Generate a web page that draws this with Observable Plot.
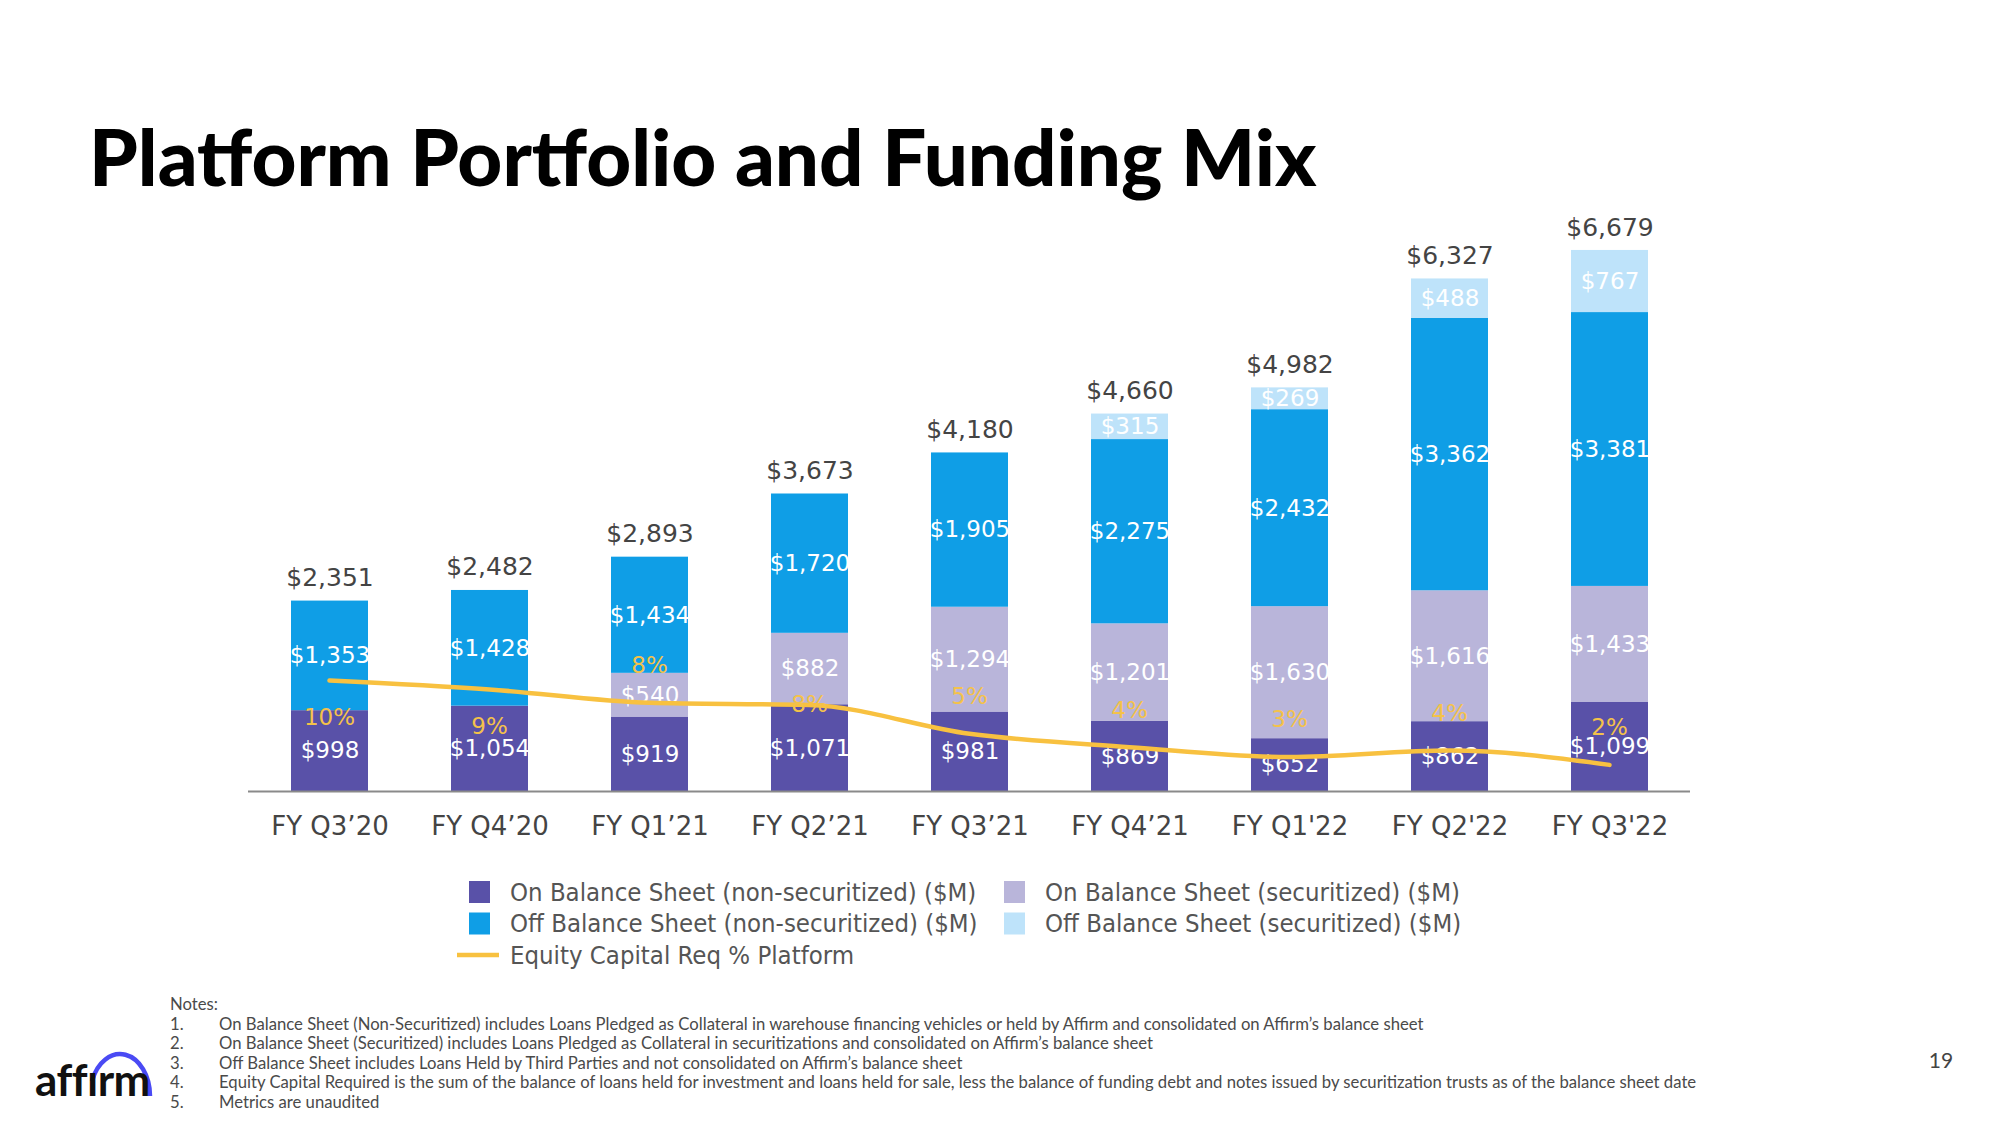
<!DOCTYPE html>
<html>
<head>
<meta charset="utf-8">
<script src="https://cdn.jsdelivr.net/npm/d3@7"></script>
<script src="https://cdn.jsdelivr.net/npm/@observablehq/plot@0.6"></script>
<style>
  html, body { margin: 0; padding: 0; background: #fff; }
  #page { position: relative; width: 2000px; height: 1125px; overflow: hidden; background: #fff; }
  #chart, #line { position: absolute; left: 0; top: 150px; }
  #decor { position: absolute; left: 0; top: 0; }
</style>
</head>
<body>
<div id="page">
  <svg id="decor" width="2000" height="1125"></svg>
  <div id="chart"></div>
  <div id="line"></div>
</div>
<script>
// ---------------- data ----------------
const titleText = "Platform Portfolio and Funding Mix";
const quarters = ["FY Q3’20", "FY Q4’20", "FY Q1’21", "FY Q2’21", "FY Q3’21", "FY Q4’21", "FY Q1'22", "FY Q2'22", "FY Q3'22"];
const seriesNames = [
  "On Balance Sheet (non-securitized) ($M)",
  "On Balance Sheet (securitized) ($M)",
  "Off Balance Sheet (non-securitized) ($M)",
  "Off Balance Sheet (securitized) ($M)"
];
const onBalanceNonSec  = [998, 1054, 919, 1071, 981, 869, 652, 862, 1099];
const onBalanceSec     = [0, 0, 540, 882, 1294, 1201, 1630, 1616, 1433];
const offBalanceNonSec = [1353, 1428, 1434, 1720, 1905, 2275, 2432, 3362, 3381];
const offBalanceSec    = [0, 0, 0, 0, 0, 315, 269, 488, 767];
const totals = [2351, 2482, 2893, 3673, 4180, 4660, 4982, 6327, 6679];
const lineName = "Equity Capital Req % Platform";
const equityPct = [10.0, 9.2, 8.0, 7.8, 5.2, 4.0, 3.1, 3.7, 2.4];
const equityPctLabels = ["10%", "9%", "8%", "8%", "5%", "4%", "3%", "4%", "2%"];
const notesHeader = "Notes:";
const notes = [
  "On Balance Sheet (Non-Securitized) includes Loans Pledged as Collateral in warehouse financing vehicles or held by Affirm and consolidated on Affirm’s balance sheet",
  "On Balance Sheet (Securitized) includes Loans Pledged as Collateral in securitizations and consolidated on Affirm’s balance sheet",
  "Off Balance Sheet includes Loans Held by Third Parties and not consolidated on Affirm’s balance sheet",
  "Equity Capital Required is the sum of the balance of loans held for investment and loans held for sale, less the balance of funding debt and notes issued by securitization trusts as of the balance sheet date",
  "Metrics are unaudited"
];
const pageNumber = "19";

// ---------------- styles ----------------
const seriesColors = ["#5951A8", "#B9B5DA", "#0F9EE6", "#BEE3FA"];
const lineColor = "#F8C140";
const pctColor = "#F4C24A";
const textGray = "#444444";

const seriesValues = [onBalanceNonSec, onBalanceSec, offBalanceNonSec, offBalanceSec];
const rows = [];
seriesValues.forEach((vals, s) => vals.forEach((v, i) => {
  if (v > 0) rows.push({quarter: quarters[i], series: seriesNames[s], value: v});
}));
const totalRows = totals.map((t, i) => ({quarter: quarters[i], total: t}));
const pctRows = equityPct.map((p, i) => ({quarter: quarters[i], pct: p, label: equityPctLabels[i], i}));

const fmt = v => "$" + d3.format(",")(v);

const W = 2000, H = 700;
const margins = {marginLeft: 248, marginRight: 310, marginTop: 20, marginBottom: 59};
const xScale = {domain: quarters, paddingInner: 0.52, paddingOuter: 0.26, label: null};

const barsPlot = Plot.plot({
  width: W, height: H, ...margins,
  x: xScale,
  y: {domain: [0, 7667], axis: null},
  color: {domain: seriesNames, range: seriesColors},
  style: {fontFamily: "DejaVu Sans", fontSize: "23px", background: "transparent", overflow: "visible"},
  marks: [
    Plot.barY(rows, {x: "quarter", y: "value", fill: "series"}),
    Plot.text(rows, Plot.stackY({x: "quarter", y: "value", z: "series", text: d => fmt(d.value), fill: "white", fontSize: 23})),
    Plot.text(totalRows, {x: "quarter", y: "total", text: d => fmt(d.total), dy: -23, fontSize: 25, fill: textGray}),
    Plot.ruleY([0], {stroke: "#8a8a8a", strokeWidth: 2}),
    Plot.axisX({tickSize: 0, tickPadding: 25, fontSize: 26, fill: textGray, label: null})
  ]
});
document.getElementById("chart").append(barsPlot);

const below = new Set([0, 1]);
const onLine = new Set([3]);
const linePlot = Plot.plot({
  width: W, height: H, ...margins,
  x: {...xScale, axis: null},
  y: {domain: [0, 56], axis: null},
  style: {fontFamily: "DejaVu Sans", fontSize: "23px", background: "transparent", overflow: "visible"},
  marks: [
    Plot.line(pctRows, {x: "quarter", y: "pct", stroke: lineColor, strokeWidth: 4.5, curve: "monotone-x"}),
    Plot.text(pctRows.filter(d => below.has(d.i)), {x: "quarter", y: "pct", text: "label", dy: 37, fill: pctColor, fontSize: 23}),
    Plot.text(pctRows.filter(d => onLine.has(d.i)), {x: "quarter", y: "pct", text: "label", dy: 0, fill: pctColor, fontSize: 23}),
    Plot.text(pctRows.filter(d => !below.has(d.i) && !onLine.has(d.i)), {x: "quarter", y: "pct", text: "label", dy: -37, fill: pctColor, fontSize: 23})
  ]
});
document.getElementById("line").append(linePlot);

// ---------------- title, legend, notes, logo ----------------
const decor = d3.select("#decor");
decor.append("text")
  .attr("x", 89).attr("y", 186)
  .attr("font-family", "Lato").attr("font-weight", 900).attr("font-size", 78)
  .attr("fill", "#000")
  .text(titleText);

// legend
const legend = decor.append("g").attr("font-family", "DejaVu Sans").attr("font-stretch", "condensed")
  .attr("font-size", 25.5).attr("fill", "#555");
const legendOrder = [0, 1, 2, 3];
legendOrder.forEach((s, k) => {
  const col = k % 2, row = Math.floor(k / 2);
  const sx = col ? 1004 : 469;
  const cy = 892 + row * 31.5;
  legend.append("rect").attr("x", sx).attr("y", cy - 11).attr("width", 21).attr("height", 22).attr("fill", seriesColors[s]);
  legend.append("text").attr("x", sx + 41).attr("y", cy).attr("dy", "0.35em").text(seriesNames[s]);
});
legend.append("line").attr("x1", 457).attr("x2", 499).attr("y1", 955).attr("y2", 955)
  .attr("stroke", lineColor).attr("stroke-width", 4.5);
legend.append("text").attr("x", 510).attr("y", 955).attr("dy", "0.35em").text(lineName);

// notes
const notesG = decor.append("g").attr("font-family", "Lato").attr("font-size", 16.7).attr("fill", "#4a4a4a");
notesG.append("text").attr("x", 170).attr("y", 1010).text(notesHeader);
notes.forEach((t, i) => {
  const y = 1029.5 + i * 19.5;
  notesG.append("text").attr("x", 170).attr("y", y).text((i + 1) + ".");
  notesG.append("text").attr("x", 219).attr("y", y).text(t);
});

// page number
decor.append("text").attr("x", 1941).attr("y", 1068).attr("text-anchor", "middle")
  .attr("font-family", "Lato").attr("font-size", 21).attr("fill", "#444").text(pageNumber);

// logo
decor.append("path").attr("d", "M 92 1081 A 30 42 0 0 1 150 1096")
  .attr("fill", "none").attr("stroke", "#4A4AF4").attr("stroke-width", 4.5);
decor.append("text").attr("x", 35).attr("y", 1096)
  .attr("font-family", "Lato").attr("font-weight", 700).attr("font-size", 44).attr("fill", "#111")
  .attr("letter-spacing", -0.5)
  .text("affırm");
</script>
</body>
</html>
